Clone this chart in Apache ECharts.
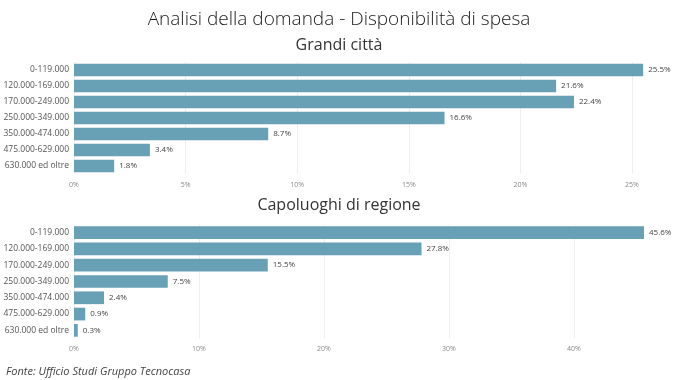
<!DOCTYPE html>
<html>
<head>
<meta charset="utf-8">
<script src="https://cdn.jsdelivr.net/npm/echarts@6/dist/echarts.min.js"></script>
<style>html,body{margin:0;padding:0;background:#fff}#c{width:678px;height:380px}</style>
</head>
<body>
<div id="c"></div>
<script>
const categories = ['0-119.000','120.000-169.000','170.000-249.000','250.000-349.000','350.000-474.000','475.000-629.000','630.000 ed oltre'];
const grandiCitta = [25.5, 21.6, 22.4, 16.6, 8.7, 3.4, 1.8];
const capoluoghi = [45.6, 27.8, 15.5, 7.5, 2.4, 0.9, 0.3];
const topTicks = { min: 0, max: 25, interval: 5 };
const bottomTicks = { min: 0, max: 40, interval: 10 };

const FONT = '"Open Sans", "Segoe UI", sans-serif';
const BAR = '#68a0b5';

function yAxis(gi) {
  return {
    type: 'category', gridIndex: gi, data: categories, inverse: true,
    axisLine: { show: false }, axisTick: { show: false },
    axisLabel: { color: '#555', fontSize: 8.5, fontFamily: FONT, margin: 5 }
  };
}
function xAxis(gi, t) {
  return {
    type: 'value', gridIndex: gi, min: t.min, max: t.max, interval: t.interval,
    axisLine: { show: false }, axisTick: { show: false },
    splitLine: { show: true, lineStyle: { color: '#eeeeee', width: 1 } },
    axisLabel: { color: '#888', fontSize: 7, fontFamily: FONT, margin: 7, formatter: v => v + '%' }
  };
}
function series(gi, data) {
  return {
    type: 'bar', xAxisIndex: gi, yAxisIndex: gi, data: data, clip: false,
    barCategoryGap: '22%', itemStyle: { color: BAR },
    label: { show: true, position: 'right', distance: 5, color: '#444', fontSize: 8, fontFamily: FONT,
      formatter: p => p.value.toFixed(1) + '%' },
    silent: true, animation: false
  };
}

const chart = echarts.init(document.getElementById('c'), null, { renderer: 'canvas' });
chart.setOption({
  animation: false,
  title: [
    { text: 'Analisi della domanda - Disponibilità di spesa', left: 'center', top: 5,
      textStyle: { fontSize: 19, fontWeight: 300, color: '#1a1a1a', fontFamily: FONT } },
    { text: 'Grandi città', left: 'center', top: 32,
      textStyle: { fontSize: 16, fontWeight: 400, color: '#333', fontFamily: FONT } },
    { text: 'Capoluoghi di regione', left: 'center', top: 192,
      textStyle: { fontSize: 16, fontWeight: 400, color: '#333', fontFamily: FONT } },
    { text: 'Fonte: Ufficio Studi Gruppo Tecnocasa', left: 1, top: 361,
      textStyle: { fontSize: 11, fontWeight: 400, fontStyle: 'italic', color: '#444', fontFamily: FONT } }
  ],
  grid: [
    { left: 74, right: 46, top: 62, height: 112, containLabel: false, outerBoundsMode: 'none' },
    { left: 74, right: 104, top: 224.5, height: 114, containLabel: false, outerBoundsMode: 'none' }
  ],
  xAxis: [xAxis(0, topTicks), xAxis(1, bottomTicks)],
  yAxis: [yAxis(0), yAxis(1)],
  series: [series(0, grandiCitta), series(1, capoluoghi)]
});
</script>
</body>
</html>
